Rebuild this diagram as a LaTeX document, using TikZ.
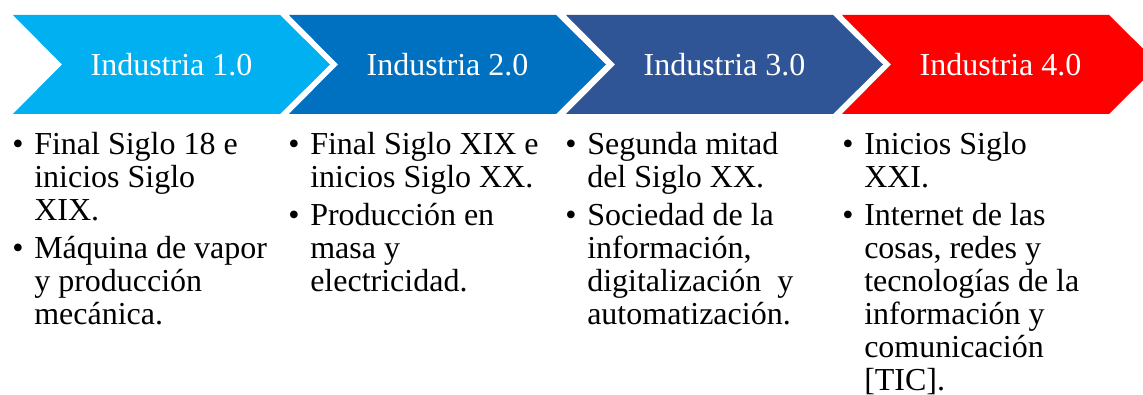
\documentclass[tikz,border=0pt]{standalone}
\usepackage{fontspec}
\setmainfont{Liberation Serif}
\usepackage{tikz}

\definecolor{indone}{HTML}{00B0F0}
\definecolor{indtwo}{HTML}{0070C0}
\definecolor{indthree}{HTML}{2F5597}
\definecolor{indfour}{HTML}{FF0000}

\newcommand{\bul}{\makebox[16.5pt][l]{\textbullet}}

\tikzset{
  title/.style={text=white, inner sep=0pt, font=\fontsize{24}{24.75}\selectfont},
  items/.style={anchor=base west, inner sep=0pt, font=\fontsize{24}{24.75}\selectfont}
}

\begin{document}
\begin{tikzpicture}[x=0.75pt,y=-0.75pt]
  \useasboundingbox (0,0) rectangle (1143,395);
  \clip (0,0) rectangle (1143,395);

  % arrows
  \fill[indone] (13,15) -- ++(267,0) -- ++(50,49.5) -- ++(-50,49.5)
    -- ++(-267,0) -- ++(49,-49.5) -- cycle;
  \fill[indtwo] (289,15) -- ++(267,0) -- ++(50,49.5) -- ++(-50,49.5)
    -- ++(-267,0) -- ++(49,-49.5) -- cycle;
  \fill[indthree] (566,15) -- ++(267,0) -- ++(50,49.5) -- ++(-50,49.5)
    -- ++(-267,0) -- ++(49,-49.5) -- cycle;
  \fill[indfour] (842,15) -- ++(267,0) -- ++(50,49.5) -- ++(-50,49.5)
    -- ++(-267,0) -- ++(49,-49.5) -- cycle;

  \node[title] (tone) at (171.5,64.5) {Industria 1.0};
  \node[title] (ttwo) at (447.5,64.5) {Industria 2.0};
  \node[title] (tthree) at (724.5,64.5) {Industria 3.0};
  \node[title] (tfour) at (1000.5,64.5) {Industria 4.0};

  % lists
  \node[items] (lone) at (12,155) {\begin{tabular}[t]{@{}l@{}l@{}}
    \bul & Final Siglo 18 e\\
         & inicios Siglo\\
         & XIX.\\[3.75pt]
    \bul & Máquina de vapor\\
         & y producción\\
         & mecánica.
  \end{tabular}};
  \node[items] (ltwo) at (288,155) {\begin{tabular}[t]{@{}l@{}l@{}}
    \bul & Final Siglo XIX e\\
         & inicios Siglo XX.\\[3.75pt]
    \bul & Producción en\\
         & masa y\\
         & electricidad.
  \end{tabular}};
  \node[items] (lthree) at (565,155) {\begin{tabular}[t]{@{}l@{}l@{}}
    \bul & Segunda mitad\\
         & del Siglo XX.\\[3.75pt]
    \bul & Sociedad de la\\
         & información,\\
         & digitalización\ \ y\\
         & automatización.
  \end{tabular}};
  \node[items] (lfour) at (842,155) {\begin{tabular}[t]{@{}l@{}l@{}}
    \bul & Inicios Siglo\\
         & XXI.\\[3.75pt]
    \bul & Internet de las\\
         & cosas, redes y\\
         & tecnologías de la\\
         & información y\\
         & comunicación\\
         & [TIC].
  \end{tabular}};
\end{tikzpicture}
\end{document}
